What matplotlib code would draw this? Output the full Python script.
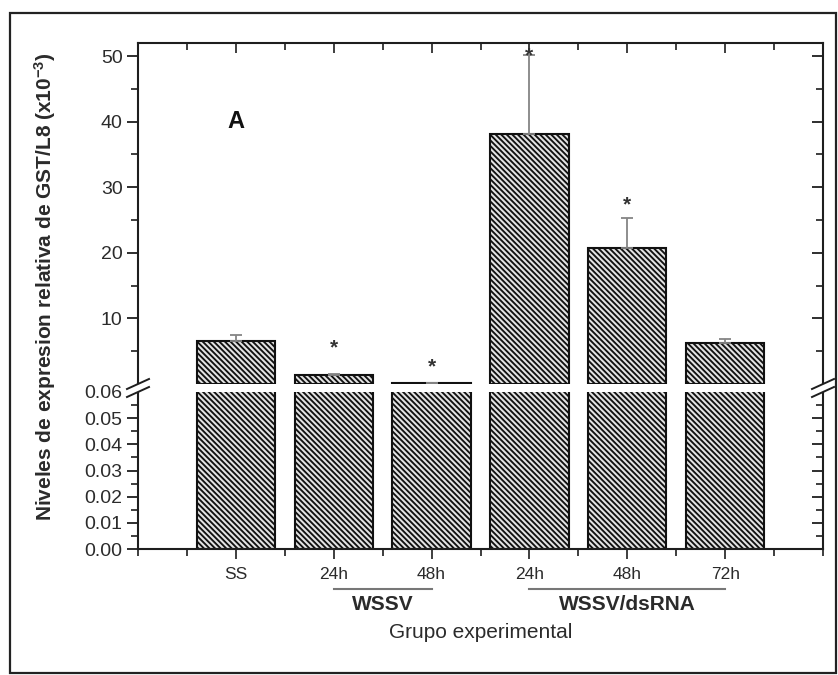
import matplotlib
matplotlib.use("Agg")
import matplotlib.pyplot as plt
from matplotlib.lines import Line2D
from matplotlib.patches import Rectangle, Polygon
from matplotlib.ticker import MultipleLocator, FixedLocator
import numpy as np

plt.rcParams['font.family'] = ['Liberation Sans', 'DejaVu Sans']
plt.rcParams['mathtext.default'] = 'regular'
plt.rcParams['hatch.linewidth'] = 1.35

# Relative GST/L8 expression (x10^-3)
tick_labels = ["SS", "24h", "48h", "24h", "48h", "72h"]
means = [6.6, 1.35, 0.12, 38.1, 20.8, 6.3]
errors = [0.8, 0.15, 0.05, 12.0, 4.5, 0.5]
star_levels = [None, 5.5, 2.6, 50.0, 27.3, None]
groups = [("WSSV", 2, 3), ("WSSV/dsRNA", 4, 6)]

W, H = 838, 675
TXT = "#2b2b2b"
SPINE = "#1e1e1e"

fig = plt.figure(figsize=(W / 100, H / 100), dpi=100)
fig.patch.set_facecolor("white")

def fx(px):
    return px / W

def fy(py):
    return 1 - py / H

# outer frame
fig.patches.append(Rectangle((fx(10), fy(673)), fx(836) - fx(10), fy(13) - fy(673),
                             transform=fig.transFigure, fill=False,
                             edgecolor="#222222", linewidth=1.6, zorder=0))

L, R = 138, 823
T_top, B_top = 43, 384
T_bot, B_bot = 392, 549
ax_top = fig.add_axes([fx(L), fy(B_top), fx(R) - fx(L), fy(T_top) - fy(B_top)])
ax_bot = fig.add_axes([fx(L), fy(B_bot), fx(R) - fx(L), fy(T_bot) - fy(B_bot)])

x = np.arange(1, len(means) + 1)
for ax in (ax_top, ax_bot):
    ax.bar(x, means, width=0.8, facecolor="#e3e3e3", edgecolor="#111111",
           hatch="\\" * 6, linewidth=1.5, zorder=2)
    ax.set_xlim(0, 7)
    for s in ax.spines.values():
        s.set_color(SPINE)
        s.set_linewidth(1.5)

# upward error bars on the upper panel
ax_top.errorbar(x, means, yerr=[np.zeros(len(errors)), errors], fmt="none",
                ecolor="#858585", elinewidth=1.3, capsize=4, capthick=1.3, zorder=3)
for xi, lvl in zip(x, star_levels):
    if lvl is not None:
        ax_top.text(xi, lvl, "*", ha="center", va="center", fontsize=15,
                    color="#333333", fontweight="bold", zorder=4)

ax_top.text(1.0, 40, "A", ha="center", va="center", fontsize=17,
            fontweight="bold", color="#111111")

# upper panel axes
ax_top.set_ylim(0, 52)
ax_top.spines["bottom"].set_visible(False)
ax_top.yaxis.set_major_locator(FixedLocator([10, 20, 30, 40, 50]))
ax_top.yaxis.set_minor_locator(FixedLocator([5, 15, 25, 35, 45]))
ax_top.xaxis.set_major_locator(MultipleLocator(1))
ax_top.xaxis.set_minor_locator(MultipleLocator(0.5))
ax_top.tick_params(axis="x", which="both", bottom=False, top=True, labelbottom=False,
                   direction="in", color=SPINE)
ax_top.tick_params(axis="x", which="major", length=7, width=1.2)
ax_top.tick_params(axis="x", which="minor", length=5, width=1.2)
ax_top.tick_params(axis="y", which="both", left=True, right=True, color=SPINE)
ax_top.tick_params(axis="y", which="major", length=8, width=1.3, labelsize=14,
                   labelcolor=TXT, pad=3)
ax_top.tick_params(axis="y", which="minor", length=5, width=1.2)
for t in ax_top.yaxis.get_major_ticks() + ax_top.yaxis.get_minor_ticks():
    t.tick1line.set_marker(matplotlib.lines.TICKLEFT)
    t.tick2line.set_marker(matplotlib.lines.TICKLEFT)

# lower panel axes
ax_bot.set_ylim(0, 0.06)
ax_bot.spines["top"].set_visible(False)
ax_bot.yaxis.set_major_locator(MultipleLocator(0.01))
ax_bot.yaxis.set_minor_locator(MultipleLocator(0.005))
ax_bot.yaxis.set_major_formatter(matplotlib.ticker.FormatStrFormatter("%.2f"))
ax_bot.set_xticks(x)
ax_bot.set_xticklabels(tick_labels)
ax_bot.xaxis.set_minor_locator(MultipleLocator(0.5))
ax_bot.tick_params(axis="x", which="both", direction="out", color=SPINE)
ax_bot.tick_params(axis="x", which="major", length=7, width=1.2, labelsize=12.5,
                   labelcolor=TXT, pad=6)
ax_bot.tick_params(axis="x", which="minor", length=5, width=1.2)
ax_bot.tick_params(axis="y", which="both", left=True, right=True, color=SPINE)
ax_bot.tick_params(axis="y", which="major", length=8, width=1.3, labelsize=14,
                   labelcolor=TXT, pad=3)
ax_bot.tick_params(axis="y", which="minor", length=5, width=1.2)
for t in ax_bot.yaxis.get_major_ticks() + ax_bot.yaxis.get_minor_ticks():
    t.tick1line.set_marker(matplotlib.lines.TICKLEFT)
    t.tick2line.set_marker(matplotlib.lines.TICKLEFT)

# spines bridging the gap, plus break marks
for xs in (L, R):
    fig.lines.append(Line2D([fx(xs), fx(xs)], [fy(B_top), fy(T_bot)],
                            transform=fig.transFigure, color=SPINE, linewidth=1.5))
    cx, cy = xs, (B_top + T_bot) / 2
    dx, dy, sep = 11, 5, 4
    poly = Polygon([(fx(cx - dx), fy(cy + dy - sep)), (fx(cx + dx), fy(cy - dy - sep)),
                    (fx(cx + dx), fy(cy - dy + sep)), (fx(cx - dx), fy(cy + dy + sep))],
                   closed=True, transform=fig.transFigure, facecolor="white",
                   edgecolor="none", zorder=5)
    fig.patches.append(poly)
    for off in (-sep, sep):
        fig.lines.append(Line2D([fx(cx - dx), fx(cx + dx)],
                                [fy(cy + dy + off), fy(cy - dy + off)],
                                transform=fig.transFigure, color=SPINE,
                                linewidth=1.4, zorder=6))

# group brackets under the tick labels
for name, a, b in groups:
    x0 = ax_bot.transData.transform((a, 0))[0] / W
    x1 = ax_bot.transData.transform((b, 0))[0] / W
    fig.lines.append(Line2D([x0, x1], [fy(589), fy(589)], transform=fig.transFigure,
                            color="#777777", linewidth=1.5))
    fig.text((x0 + x1) / 2, fy(604), name, ha="center", va="center", fontsize=15,
             fontweight="bold", color=TXT)

fig.text(fx((L + R) / 2), fy(632), "Grupo experimental", ha="center", va="center",
         fontsize=15, color=TXT)
fig.text(fx(45), fy(287), "Niveles de expresion relativa de GST/L8 (x10$^{-3}$)",
         rotation=90, ha="center", va="center", fontsize=15, fontweight="bold",
         color=TXT)

fig.savefig("out.png", dpi=100, facecolor="white")
